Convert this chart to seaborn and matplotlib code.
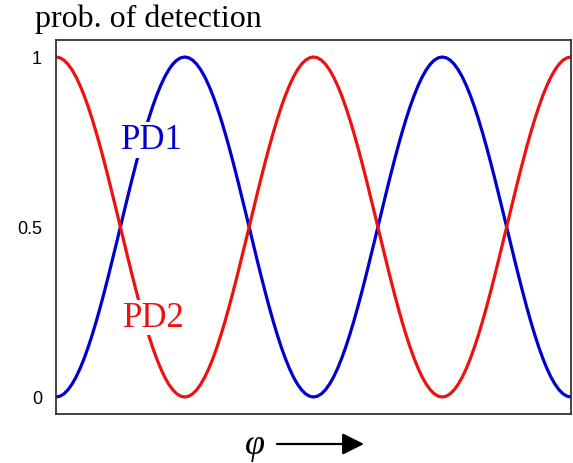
import numpy as np
import pandas as pd
import matplotlib
matplotlib.use("Agg")
import matplotlib.pyplot as plt
import seaborn as sns

# phase samples (in units of pi), 0 .. 4 pi in steps of pi/32
phase_pi = [i / 32 for i in range(129)]

pd1_values = [
    0.0000, 0.0024, 0.0096, 0.0215, 0.0381, 0.0590, 0.0843, 0.1135, 0.1464, 0.1828, 0.2222, 0.2643, 0.3087,
    0.3549, 0.4025, 0.4510, 0.5000, 0.5490, 0.5975, 0.6451, 0.6913, 0.7357, 0.7778, 0.8172, 0.8536, 0.8865,
    0.9157, 0.9410, 0.9619, 0.9785, 0.9904, 0.9976, 1.0000,
    0.9976, 0.9904, 0.9785, 0.9619, 0.9410, 0.9157, 0.8865, 0.8536, 0.8172, 0.7778, 0.7357, 0.6913, 0.6451,
    0.5975, 0.5490, 0.5000, 0.4510, 0.4025, 0.3549, 0.3087, 0.2643, 0.2222, 0.1828, 0.1464, 0.1135, 0.0843,
    0.0590, 0.0381, 0.0215, 0.0096, 0.0024, 0.0000,
    0.0024, 0.0096, 0.0215, 0.0381, 0.0590, 0.0843, 0.1135, 0.1464, 0.1828, 0.2222, 0.2643, 0.3087,
    0.3549, 0.4025, 0.4510, 0.5000, 0.5490, 0.5975, 0.6451, 0.6913, 0.7357, 0.7778, 0.8172, 0.8536, 0.8865,
    0.9157, 0.9410, 0.9619, 0.9785, 0.9904, 0.9976, 1.0000,
    0.9976, 0.9904, 0.9785, 0.9619, 0.9410, 0.9157, 0.8865, 0.8536, 0.8172, 0.7778, 0.7357, 0.6913, 0.6451,
    0.5975, 0.5490, 0.5000, 0.4510, 0.4025, 0.3549, 0.3087, 0.2643, 0.2222, 0.1828, 0.1464, 0.1135, 0.0843,
    0.0590, 0.0381, 0.0215, 0.0096, 0.0024, 0.0000,
]
pd2_values = [
    1.0000, 0.9976, 0.9904, 0.9785, 0.9619, 0.9410, 0.9157, 0.8865, 0.8536, 0.8172, 0.7778, 0.7357, 0.6913,
    0.6451, 0.5975, 0.5490, 0.5000, 0.4510, 0.4025, 0.3549, 0.3087, 0.2643, 0.2222, 0.1828, 0.1464, 0.1135,
    0.0843, 0.0590, 0.0381, 0.0215, 0.0096, 0.0024, 0.0000,
    0.0024, 0.0096, 0.0215, 0.0381, 0.0590, 0.0843, 0.1135, 0.1464, 0.1828, 0.2222, 0.2643, 0.3087, 0.3549,
    0.4025, 0.4510, 0.5000, 0.5490, 0.5975, 0.6451, 0.6913, 0.7357, 0.7778, 0.8172, 0.8536, 0.8865, 0.9157,
    0.9410, 0.9619, 0.9785, 0.9904, 0.9976, 1.0000,
    0.9976, 0.9904, 0.9785, 0.9619, 0.9410, 0.9157, 0.8865, 0.8536, 0.8172, 0.7778, 0.7357, 0.6913,
    0.6451, 0.5975, 0.5490, 0.5000, 0.4510, 0.4025, 0.3549, 0.3087, 0.2643, 0.2222, 0.1828, 0.1464, 0.1135,
    0.0843, 0.0590, 0.0381, 0.0215, 0.0096, 0.0024, 0.0000,
    0.0024, 0.0096, 0.0215, 0.0381, 0.0590, 0.0843, 0.1135, 0.1464, 0.1828, 0.2222, 0.2643, 0.3087, 0.3549,
    0.4025, 0.4510, 0.5000, 0.5490, 0.5975, 0.6451, 0.6913, 0.7357, 0.7778, 0.8172, 0.8536, 0.8865, 0.9157,
    0.9410, 0.9619, 0.9785, 0.9904, 0.9976, 1.0000,
]
series_names = ["PD1", "PD2"]
series_colors = {"PD1": "#0000CC", "PD2": "#EE1111"}
ytick_values = [0, 0.5, 1]
ytick_labels = ["0", "0.5", "1"]

phi = np.array(phase_pi) * np.pi
df = pd.concat([
    pd.DataFrame({"phi": phi, "p": pd1_values, "detector": "PD1"}),
    pd.DataFrame({"phi": phi, "p": pd2_values, "detector": "PD2"}),
])

sns.set_style("white")
plt.rcParams["font.family"] = ["Liberation Serif", "DejaVu Serif"]
plt.rcParams["text.color"] = "black"
plt.rcParams["ytick.labelcolor"] = "black"

fig = plt.figure(figsize=(5.73, 4.64), dpi=100)
ax = fig.add_axes([56 / 573, 1 - 415 / 464, (571 - 56) / 573, (415 - 41) / 464])

sns.lineplot(data=df, x="phi", y="p", hue="detector", palette=series_colors,
             hue_order=series_names, linewidth=2.3, ax=ax, legend=False)

ax.set_xlim(0, 4 * np.pi)
ax.set_ylim(-0.05, 1.05)
ax.set_xticks([])
ax.set_yticks(ytick_values)
ax.set_yticklabels(ytick_labels, family="Liberation Sans", fontsize=13, color="black")
ax.tick_params(axis="y", direction="in", length=6, width=0.8, color="#999999", pad=10)
ax.set_xlabel("")
ax.set_ylabel("")
for s in ax.spines.values():
    s.set_visible(True)
    s.set_color("#333333")
    s.set_linewidth(1.3)

ax.text(2.33, 0.732, "PD1", color=series_colors["PD1"], fontsize=25, ha="center", va="baseline",
        bbox=dict(facecolor="white", edgecolor="none", pad=1))
ax.text(2.39, 0.209, "PD2", color=series_colors["PD2"], fontsize=25, ha="center", va="baseline",
        bbox=dict(facecolor="white", edgecolor="none", pad=1))

fig.text(35 / 573, 1 - 27 / 464, "prob. of detection", fontsize=23, ha="left", va="baseline",
         color="black")
fig.text(255 / 573, 1 - 454 / 464, "φ", fontsize=26, style="italic", ha="center", va="baseline",
         color="black")
fig.add_artist(matplotlib.patches.FancyArrowPatch(
    (277 / 573, 1 - 445 / 464), (364 / 573, 1 - 445 / 464), transform=fig.transFigure,
    arrowstyle="-|>,head_length=1.1,head_width=0.55", mutation_scale=12, color="black",
    linewidth=1.6, shrinkA=0, shrinkB=0))

fig.savefig("out.png", dpi=100)
